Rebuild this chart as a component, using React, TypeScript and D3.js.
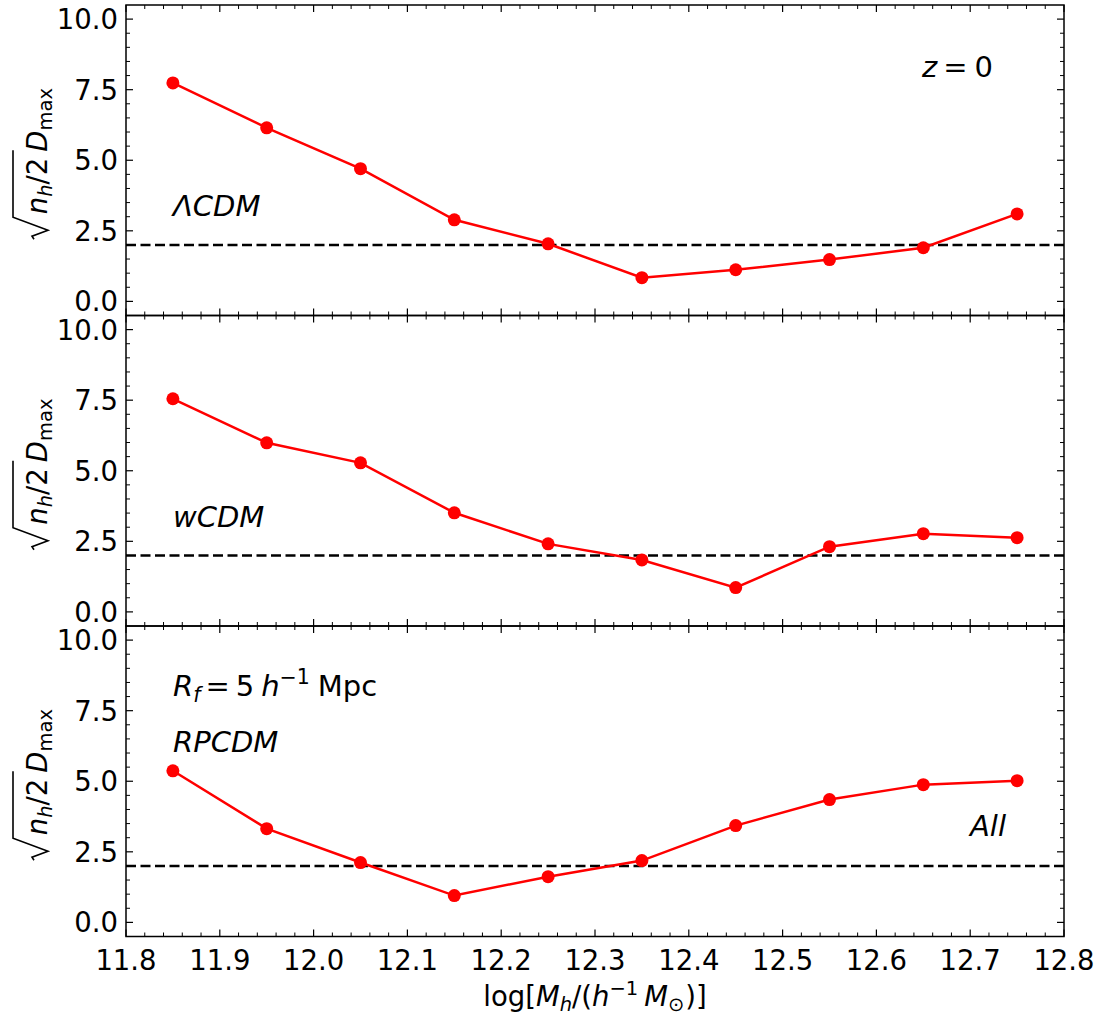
import React from "react";
import * as d3 from "d3";

const massBins = [11.85, 11.95, 12.05, 12.15, 12.25, 12.35, 12.45, 12.55, 12.65, 12.75];
const lcdmValues = [7.74, 6.15, 4.70, 2.89, 2.04, 0.84, 1.12, 1.48, 1.90, 3.10];
const wcdmValues = [7.55, 5.99, 5.28, 3.51, 2.41, 1.84, 0.86, 2.31, 2.77, 2.63];
const rpcdmValues = [5.37, 3.32, 2.12, 0.95, 1.62, 2.19, 3.43, 4.35, 4.88, 5.02];
const thresholdValue = 2.0;
const xTickLabels = ["11.8", "11.9", "12.0", "12.1", "12.2", "12.3", "12.4", "12.5", "12.6", "12.7", "12.8"];
const yTickLabels = ["0.0", "2.5", "5.0", "7.5", "10.0"];

const W = 1102;
const H = 1017;
const left = 126;
const right = 1064;
const top = 5;
const panelH = 310.5;
const FONT = "DejaVu Sans, sans-serif";
const FS = 27.5;
const AFS = 29;
const SUB = 19.5;

const panels = [
  { name: "lcdm", values: lcdmValues },
  { name: "wcdm", values: wcdmValues },
  { name: "rpcdm", values: rpcdmValues },
];

export default function App() {
  const x = d3.scaleLinear().domain([11.8, 12.8]).range([left, right]);
  const xMajor = xTickLabels.map(Number);
  const xMinor = d3
    .range(11.8, 12.8001, 0.02)
    .map((v) => +v.toFixed(2))
    .filter((v) => !xMajor.some((m) => Math.abs(m - v) < 1e-6));
  const yMajor = yTickLabels.map(Number);
  const yMinor = d3.range(0, 10.5, 0.5).filter((v) => !yMajor.some((m) => Math.abs(m - v) < 1e-6));

  return (
    <svg width={W} height={H} style={{ display: "block", position: "absolute", left: 0, top: 0, background: "#fff" }} fontFamily={FONT}>
      <rect x={0} y={0} width={W} height={H} fill="#fff" />
      {panels.map((p, i) => {
        const pt = top + i * panelH;
        const pb = pt + panelH;
        const y = d3.scaleLinear().domain([-0.5, 10.5]).range([pb, pt]);
        const line = d3
          .line<number>()
          .x((_, k) => x(massBins[k]))
          .y((d) => y(d));
        const cy = (pt + pb) / 2;
        return (
          <g key={p.name}>
            <line x1={left} x2={right} y1={y(thresholdValue)} y2={y(thresholdValue)} stroke="#000" strokeWidth={2.6} strokeDasharray="10,4.5" />
            <path d={line(p.values) || ""} fill="none" stroke="#ff0000" strokeWidth={2.5} />
            {p.values.map((v, k) => (
              <circle key={k} cx={x(massBins[k])} cy={y(v)} r={6.5} fill="#ff0000" />
            ))}
            {xMajor.map((v) => (
              <g key={"xM" + v}>
                <line x1={x(v)} x2={x(v)} y1={pb} y2={pb - 7} stroke="#000" strokeWidth={1.2} />
                <line x1={x(v)} x2={x(v)} y1={pt} y2={pt + 7} stroke="#000" strokeWidth={1.2} />
              </g>
            ))}
            {xMinor.map((v) => (
              <g key={"xm" + v}>
                <line x1={x(v)} x2={x(v)} y1={pb} y2={pb - 4} stroke="#000" strokeWidth={1} />
                <line x1={x(v)} x2={x(v)} y1={pt} y2={pt + 4} stroke="#000" strokeWidth={1} />
              </g>
            ))}
            {yMajor.map((v) => (
              <g key={"yM" + v}>
                <line x1={left} x2={left + 7} y1={y(v)} y2={y(v)} stroke="#000" strokeWidth={1.2} />
                <line x1={right} x2={right - 7} y1={y(v)} y2={y(v)} stroke="#000" strokeWidth={1.2} />
              </g>
            ))}
            {yMinor.map((v) => (
              <g key={"ym" + v}>
                <line x1={left} x2={left + 4} y1={y(v)} y2={y(v)} stroke="#000" strokeWidth={1} />
                <line x1={right} x2={right - 4} y1={y(v)} y2={y(v)} stroke="#000" strokeWidth={1} />
              </g>
            ))}
            {yTickLabels.map((t) => (
              <text key={"yl" + t} x={left - 8} y={y(Number(t))} dy="0.36em" textAnchor="end" fontSize={FS}>
                {t}
              </text>
            ))}
            <rect x={left} y={pt} width={right - left} height={panelH} fill="none" stroke="#000" strokeWidth={1.5} />
            <g transform={`translate(47,${cy}) rotate(-90)`}>
              <path d="M-79,-13 L-76,-15 L-70,1 L-57,-34 L10,-34" fill="none" stroke="#000" strokeWidth={1.6} strokeLinejoin="miter" />
              <text x={-54} y={0} fontSize={FS}>
                <tspan fontStyle="italic">n</tspan>
                <tspan fontStyle="italic" fontSize={SUB} dy={5}>h</tspan>
                <tspan dy={-5}>/2</tspan>
                <tspan fontStyle="italic" dx={6}>D</tspan>
                <tspan fontSize={SUB} dy={5}>max</tspan>
              </text>
            </g>
          </g>
        );
      })}
      {xTickLabels.map((t) => (
        <text key={"xl" + t} x={x(Number(t))} y={970} textAnchor="middle" fontSize={FS}>
          {t}
        </text>
      ))}
      <text x={595} y={1006} textAnchor="middle" fontSize={FS}>
        <tspan>log[</tspan>
        <tspan fontStyle="italic">M</tspan>
        <tspan fontStyle="italic" fontSize={SUB} dy={5}>h</tspan>
        <tspan dy={-5}>/(</tspan>
        <tspan fontStyle="italic">h</tspan>
        <tspan fontSize={SUB} dy={-11}>−1</tspan>
        <tspan fontStyle="italic" dy={11} dx={6}>M</tspan>
        <tspan fontSize={SUB} dy={5}>⊙</tspan>
        <tspan dy={-5} dx={1}>)]</tspan>
      </text>
      <text x={922} y={77} fontSize={AFS}>
        <tspan fontStyle="italic">z</tspan>
        <tspan dx={6}>=</tspan>
        <tspan dx={7}>0</tspan>
      </text>
      <text x={173} y={216} fontSize={AFS} fontStyle="italic">ΛCDM</text>
      <text x={173} y={527} fontSize={AFS} fontStyle="italic">wCDM</text>
      <text x={173} y={696} fontSize={AFS}>
        <tspan fontStyle="italic">R</tspan>
        <tspan fontStyle="italic" fontSize={SUB + 1} dy={6}>f</tspan>
        <tspan dy={-6} dx={5}>=</tspan>
        <tspan dx={6}>5</tspan>
        <tspan fontStyle="italic" dx={7}>h</tspan>
        <tspan fontSize={SUB + 1} dy={-12}>−1</tspan>
        <tspan dy={12} dx={8}>Mpc</tspan>
      </text>
      <text x={173} y={752} fontSize={AFS} fontStyle="italic">RPCDM</text>
      <text x={970} y={836} fontSize={AFS} fontStyle="italic">All</text>
    </svg>
  );
}
